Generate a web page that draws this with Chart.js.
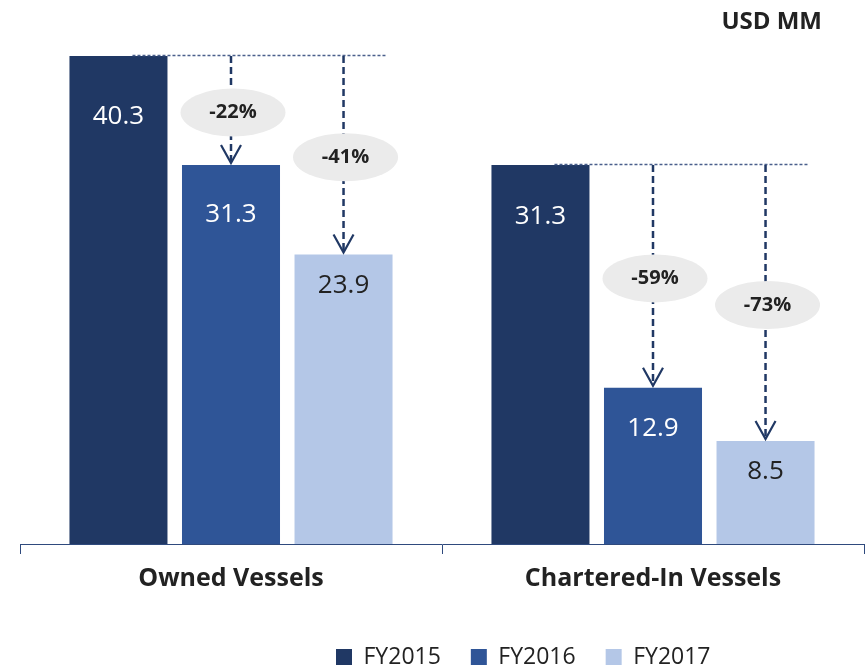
<!DOCTYPE html>
<html>
<head>
<meta charset="utf-8">
<script src="https://cdn.jsdelivr.net/npm/chart.js@4/dist/chart.umd.min.js"></script>
<style>
  html, body { margin: 0; padding: 0; background: #fff; }
  #wrap { width: 866px; height: 669px; position: relative; }
</style>
</head>
<body>
<div id="wrap"><canvas id="c" width="866" height="669"></canvas></div>
<script>
const categories = ['Owned Vessels', 'Chartered-In Vessels'];
const seriesNames = ['FY2015', 'FY2016', 'FY2017'];
const fy2015 = [40.3, 31.3];
const fy2016 = [31.3, 12.9];
const fy2017 = [23.9, 8.5];
const unitLabel = 'USD MM';

const colors = ['#203864', '#2F5597', '#B4C7E7'];
const labelColors = ['#FFFFFF', '#FFFFFF', '#222222'];
// vertical offset of value label centre below the bar top [dataset][category]
const labelOffsets = [[61, 52], [50, 41], [31, 31]];
const FONT = "'Open Sans', 'DejaVu Sans', sans-serif";
const LEGEND_START_X = 336;
const LEGEND_CENTER_Y = 657;

const legendShift = {
  id: 'legendShift',
  afterLayout(chart) {
    const lg = chart.legend;
    if (!lg || !lg.lineWidths) return;
    const lo = lg.options.labels;
    const pad = lo.padding;
    const w = lg.lineWidths[0];
    lg.left = 2 * LEGEND_START_X - pad - lg.right + w;
    const itemH = Math.max(lo.boxHeight, lo.font.size);
    const h = lg.bottom - lg.top;
    lg.top = LEGEND_CENTER_Y - pad - itemH / 2;
    lg.bottom = lg.top + h;
  }
};

const annotPlugin = {
  id: 'annot',
  afterDatasetsDraw(chart) {
    const ctx = chart.ctx;
    const metas = [0, 1, 2].map(i => chart.getDatasetMeta(i));
    ctx.save();
    ctx.font = '26px ' + FONT;
    ctx.textAlign = 'center';
    ctx.textBaseline = 'middle';
    metas.forEach((m, di) => {
      m.data.forEach((bar, ci) => {
        const v = chart.data.datasets[di].data[ci];
        ctx.fillStyle = labelColors[di];
        ctx.fillText(v.toFixed(1), bar.x, bar.y + labelOffsets[di][ci]);
      });
    });
    ctx.restore();

    categories.forEach((c, ci) => {
      const base = metas[0].data[ci];
      const last = metas[2].data[ci];
      const y0 = base.y;
      const baseVal = chart.data.datasets[0].data[ci];
      ctx.save();
      ctx.strokeStyle = '#4A5F8C';
      ctx.lineWidth = 1.3;
      ctx.setLineDash([3, 2]);
      ctx.beginPath();
      ctx.moveTo(base.x + base.width / 2 - 35, y0 - 0.5);
      ctx.lineTo(last.x + last.width / 2 - 6, y0 - 0.5);
      ctx.stroke();
      ctx.restore();

      [1, 2].forEach(di => {
        const bar = metas[di].data[ci];
        const val = chart.data.datasets[di].data[ci];
        const x = bar.x;
        const tipY = bar.y - 2;
        ctx.save();
        ctx.strokeStyle = '#203864';
        ctx.lineWidth = 2.5;
        ctx.setLineDash([7, 4]);
        ctx.beginPath();
        ctx.moveTo(x, y0);
        ctx.lineTo(x, tipY - 2);
        ctx.stroke();
        ctx.setLineDash([]);
        ctx.lineWidth = 2.2;
        ctx.beginPath();
        ctx.moveTo(x - 10, tipY - 18);
        ctx.lineTo(x, tipY);
        ctx.lineTo(x + 10, tipY - 18);
        ctx.stroke();
        const cy = (y0 + bar.y) / 2 + 2;
        ctx.fillStyle = '#EBEBEB';
        ctx.beginPath();
        ctx.ellipse(x + 2, cy, 52.5, 24, 0, 0, Math.PI * 2);
        ctx.fill();
        const pct = Math.round((val / baseVal - 1) * 100);
        ctx.fillStyle = '#222222';
        ctx.font = 'bold 20px ' + FONT;
        ctx.textAlign = 'center';
        ctx.textBaseline = 'middle';
        ctx.fillText(pct + '%', x + 2, cy);
        ctx.restore();
      });
    });

    ctx.save();
    ctx.font = 'bold 24px ' + FONT;
    ctx.fillStyle = '#222222';
    ctx.textAlign = 'right';
    ctx.textBaseline = 'middle';
    ctx.fillText(unitLabel, 822, 22);
    ctx.restore();
  }
};

new Chart(document.getElementById('c'), {
  type: 'bar',
  data: {
    labels: categories,
    datasets: [
      { label: seriesNames[0], data: fy2015, backgroundColor: colors[0] },
      { label: seriesNames[1], data: fy2016, backgroundColor: colors[1] },
      { label: seriesNames[2], data: fy2017, backgroundColor: colors[2] }
    ]
  },
  options: {
    responsive: false,
    animation: false,
    devicePixelRatio: 1,
    layout: { padding: { left: 20, right: 2, top: 56, bottom: 0 } },
    datasets: { bar: { categoryPercentage: 0.8, barPercentage: 0.871 } },
    scales: {
      y: { display: false, min: 0, max: 40.3 },
      x: {
        afterFit(scale) { scale.height = 62; },
        grid: { offset: true, drawOnChartArea: false, drawTicks: true, tickLength: 10, color: '#2F4A7D', lineWidth: 1 },
        border: { display: true, color: '#2F4A7D', width: 1 },
        ticks: { color: '#222222', padding: 10, font: { family: FONT, size: 25, weight: 'bold' } }
      }
    },
    plugins: {
      tooltip: { enabled: false },
      legend: {
        position: 'bottom',
        labels: {
          color: '#222222',
          boxWidth: 16, boxHeight: 16, padding: 30,
          font: { family: FONT, size: 23 }
        }
      }
    }
  },
  plugins: [legendShift, annotPlugin]
});
</script>
</body>
</html>
